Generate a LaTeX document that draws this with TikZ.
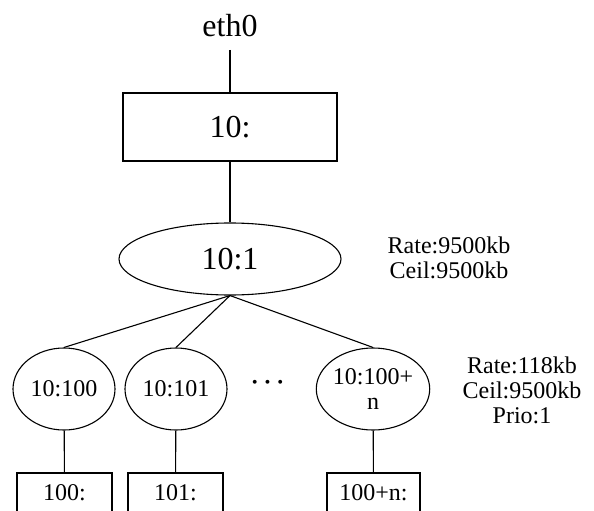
\documentclass[tikz,border=0pt]{standalone}
\usepackage{amsmath}
\usepackage{fontspec}
\setmainfont{Liberation Serif}
\usetikzlibrary{positioning, shapes.geometric}

\begin{document}
\begin{tikzpicture}[x=1pt, y=-1pt, line width=1.1pt,
    bigtxt/.style={font=\fontsize{32}{36}\selectfont},
    smalltxt/.style={font=\fontsize{24}{25}\selectfont, align=center},
    qbox/.style={draw, rectangle, inner sep=0pt},
    qcls/.style={draw, ellipse, inner sep=0pt}]

    % --- 参数定义 ---
    \def\leafW{102} % 子类椭圆宽度
    \def\leafH{82}  % 子类椭圆高度
    \def\leafY{389} % 子类所在高度
    \def\boxY{493}  % 叶子队列所在高度

    \useasboundingbox (0,0) rectangle (594,511);

    % --- 根部 ---
    \node[bigtxt, inner sep=0pt, inner ysep=12pt, anchor=base] (eth) at (230,37) {eth0};
    \node[qbox, bigtxt, minimum width=214pt, minimum height=68pt] (qdisc) at (230,127) {10:};
    \node[qcls, bigtxt, minimum width=222pt, minimum height=72pt] (root) at (230,259) {10:1};
    \node[smalltxt] (rootinfo) at (449,258) {Rate:9500kb\\Ceil:9500kb};

    \draw (eth) -- (qdisc);
    \draw (qdisc) -- (root);

    % --- 子类 ---
    \node[qcls, smalltxt, minimum width=\leafW pt, minimum height=\leafH pt] (c100) at (64,\leafY) {10:100};
    \node[qcls, smalltxt, minimum width=\leafW pt, minimum height=\leafH pt] (c101) at (176,\leafY) {10:101};
    \node[qcls, smalltxt, minimum width=\leafW pt, minimum height=\leafH pt] (cn) at (373,\leafY) {10:100+\\n};
    \node[font=\fontsize{30}{30}\selectfont] (dots) at (270,383) {$\boldsymbol{\cdots}$};
    \node[smalltxt] (leafinfo) at (522,390) {Rate:118kb\\Ceil:9500kb\\Prio:1};

    \foreach \c in {c100, c101, cn}
        \draw (root.south) -- (\c.north);

    % --- 叶子队列 ---
    \node[qbox, smalltxt, minimum width=95pt, minimum height=40pt] (b100) at (64.5,\boxY) {100:};
    \node[qbox, smalltxt, minimum width=95pt, minimum height=40pt] (b101) at (175.5,\boxY) {101:};
    \node[qbox, smalltxt, minimum width=93pt, minimum height=40pt] (bn) at (373.5,\boxY) {100+n:};

    \draw (c100) -- (b100);
    \draw (c101) -- (b101);
    \draw (cn) -- (bn);

\end{tikzpicture}
\end{document}
